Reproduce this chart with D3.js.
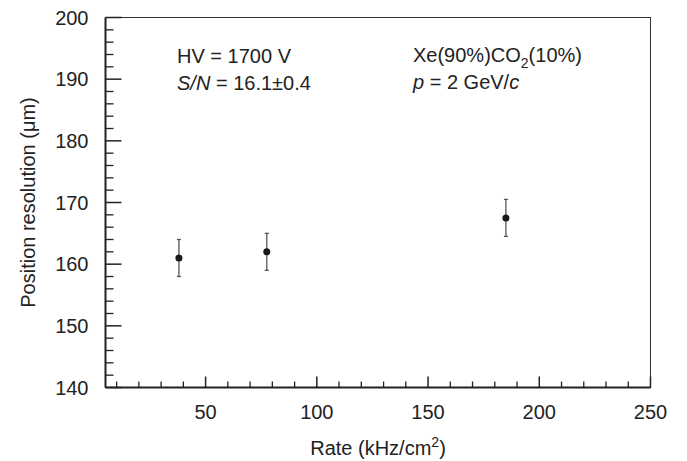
<!DOCTYPE html>
<html>
<head>
<meta charset="utf-8">
<script src="https://cdn.jsdelivr.net/npm/d3@7.9.0/dist/d3.min.js"></script>
<style>
  body { margin: 0; background: #fff; }
  svg text { font-family: "Liberation Sans", Arial, sans-serif; fill: #222; }
</style>
</head>
<body>
<svg id="chart" width="687" height="461"></svg>
<script>
// Data
const rates = [38, 77.5, 185];
const resolution = [161, 162, 167.5];
const resErr = [3, 3, 3];

const xMajor = [50, 100, 150, 200, 250];
const yMajor = [140, 150, 160, 170, 180, 190, 200];

const margin = { left: 105.5, right: 36.5, top: 17.5, bottom: 73.5 };
const W = 687, H = 461;
const FS = 20;

const svg = d3.select('#chart');

const x = d3.scaleLinear().domain([5, 250]).range([margin.left, W - margin.right]);
const y = d3.scaleLinear().domain([140, 200]).range([H - margin.bottom, margin.top]);

// frame (top/right thin)
svg.append('rect')
    .attr('x', x(5)).attr('y', y(200))
    .attr('width', x(250) - x(5)).attr('height', y(140) - y(200))
    .attr('fill', 'none').attr('stroke', '#333').attr('stroke-width', 1);

// minor ticks
const xMinor = d3.range(10, 250, 10).filter(v => v % 50 !== 0);
const yMinor = d3.range(142, 200, 2).filter(v => v % 10 !== 0);

const ticks = svg.append('g').attr('stroke', '#222');

ticks.selectAll('.xmin').data(xMinor).join('line')
    .attr('x1', d => x(d)).attr('x2', d => x(d))
    .attr('y1', y(140)).attr('y2', y(140) - 6)
    .attr('stroke-width', 1.3);
ticks.selectAll('.xmaj').data(xMajor).join('line')
    .attr('x1', d => x(d)).attr('x2', d => x(d))
    .attr('y1', y(140)).attr('y2', y(140) - 11)
    .attr('stroke-width', 1.5);
ticks.selectAll('.ymin').data(yMinor).join('line')
    .attr('x1', x(5)).attr('x2', x(5) + 8)
    .attr('y1', d => y(d)).attr('y2', d => y(d))
    .attr('stroke-width', 1.3);
ticks.selectAll('.ymaj').data(yMajor).join('line')
    .attr('x1', x(5)).attr('x2', x(5) + 16)
    .attr('y1', d => y(d)).attr('y2', d => y(d))
    .attr('stroke-width', 1.5);

// thick left & bottom axis lines
svg.append('line')
    .attr('x1', x(5)).attr('x2', x(5)).attr('y1', y(200)).attr('y2', y(140))
    .attr('stroke', '#222').attr('stroke-width', 2);
svg.append('line')
    .attr('x1', x(5)).attr('x2', x(250)).attr('y1', y(140)).attr('y2', y(140))
    .attr('stroke', '#222').attr('stroke-width', 2);

// tick labels
svg.selectAll('.xl').data(xMajor).join('text')
    .attr('x', d => x(d)).attr('y', 419)
    .attr('text-anchor', 'middle').attr('font-size', FS)
    .text(d => d);
svg.selectAll('.yl').data(yMajor).join('text')
    .attr('x', x(5) - 17).attr('y', d => y(d) + 7)
    .attr('text-anchor', 'end').attr('font-size', FS)
    .text(d => d);

// axis titles
const xt = svg.append('text')
    .attr('x', (x(5) + x(250)) / 2).attr('y', 455)
    .attr('text-anchor', 'middle').attr('font-size', FS);
xt.append('tspan').text('Rate (kHz/cm');
xt.append('tspan').attr('font-size', 14).attr('dy', -8).text('2');
xt.append('tspan').attr('dy', 8).text(')');

svg.append('text')
    .attr('transform', `translate(35, ${(y(140) + y(200)) / 2}) rotate(-90)`)
    .attr('text-anchor', 'middle').attr('font-size', FS)
    .text('Position resolution (μm)');

// annotations
svg.append('text').attr('x', 177).attr('y', 63).attr('font-size', FS).text('HV = 1700 V');
const sn = svg.append('text').attr('x', 177).attr('y', 90).attr('font-size', FS);
sn.append('tspan').attr('font-style', 'italic').text('S/N');
sn.append('tspan').text(' = 16.1±0.4');

const xe = svg.append('text').attr('x', 413).attr('y', 62).attr('font-size', FS);
xe.append('tspan').text('Xe(90%)CO');
xe.append('tspan').attr('font-size', 14).attr('dy', 6).text('2');
xe.append('tspan').attr('dy', -6).text('(10%)');
const pp = svg.append('text').attr('x', 413).attr('y', 89).attr('font-size', FS);
pp.append('tspan').attr('font-style', 'italic').text('p');
pp.append('tspan').text(' = 2 GeV/');
pp.append('tspan').attr('font-style', 'italic').text('c');

// data with error bars
const pts = rates.map((r, i) => ({ r, v: resolution[i], e: resErr[i] }));
const g = svg.append('g');
g.selectAll('.eb').data(pts).join('line')
    .attr('x1', d => x(d.r)).attr('x2', d => x(d.r))
    .attr('y1', d => y(d.v - d.e)).attr('y2', d => y(d.v + d.e))
    .attr('stroke', '#555').attr('stroke-width', 1.3);
g.selectAll('.capt').data(pts).join('line')
    .attr('x1', d => x(d.r) - 2).attr('x2', d => x(d.r) + 2)
    .attr('y1', d => y(d.v + d.e)).attr('y2', d => y(d.v + d.e))
    .attr('stroke', '#555').attr('stroke-width', 1.3);
g.selectAll('.capb').data(pts).join('line')
    .attr('x1', d => x(d.r) - 2).attr('x2', d => x(d.r) + 2)
    .attr('y1', d => y(d.v - d.e)).attr('y2', d => y(d.v - d.e))
    .attr('stroke', '#555').attr('stroke-width', 1.3);
g.selectAll('circle').data(pts).join('circle')
    .attr('cx', d => x(d.r)).attr('cy', d => y(d.v))
    .attr('r', 3.5).attr('fill', '#1a1a1a');
</script>
</body>
</html>
